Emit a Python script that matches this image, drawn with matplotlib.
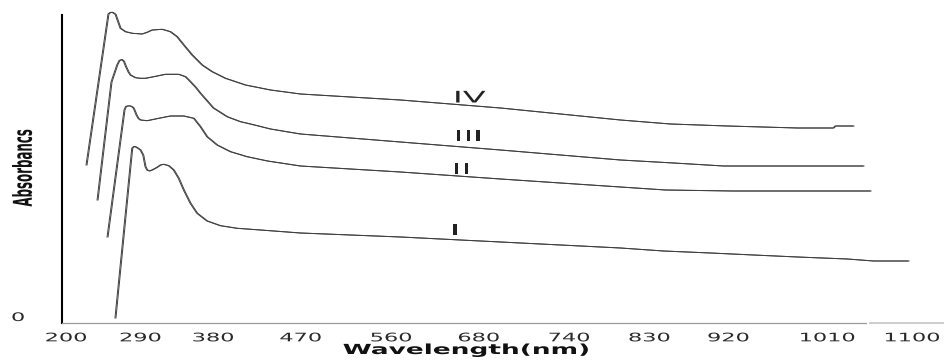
import matplotlib
matplotlib.use("Agg")
import matplotlib.pyplot as plt
import matplotlib.patheffects as pe
from matplotlib.patheffects import AbstractPathEffect
from matplotlib.transforms import Affine2D


# Widen glyphs sideways around the text's own centre
class StretchX(AbstractPathEffect):
    def __init__(self, sx):
        super().__init__()
        self.sx = sx

    def draw_path(self, renderer, gc, tpath, affine, rgbFace=None):
        box = tpath.get_extents(affine)
        cx = 0.5 * (box.x0 + box.x1)
        wide = affine + Affine2D().translate(-cx, 0).scale(self.sx, 1).translate(cx, 0)
        renderer.draw_path(gc, tpath, wide, rgbFace)


# Spectra (wavelength in nm, absorbance, offset per sample)
wl_1 = [253, 270.8, 272.7, 274.3, 277.5, 279.6, 282.5, 284.9, 286.7, 289.2, 292, 297.3, 300.8,
        304.3, 309.6, 314.9, 320.2, 325.6, 332.7, 339.8, 350.4, 364.5, 382.2, 407, 449.4,
        555.5, 661.7, 789, 834.7, 884.6, 930.2, 976.9, 1029.9, 1057.6, 1094.7]
ab_1 = [-0.02, 1.677, 1.695, 1.693, 1.675, 1.66, 1.61, 1.493, 1.46, 1.45, 1.46, 1.487, 1.51,
        1.517, 1.503, 1.46, 1.377, 1.26, 1.127, 1.027, 0.95, 0.903, 0.877, 0.86, 0.83,
        0.79, 0.74, 0.68, 0.65, 0.63, 0.61, 0.59, 0.57, 0.55, 0.55]

wl_2 = [244.6, 262.6, 264.2, 266.9, 269, 271.1, 272.5, 275.4, 277.5, 279.6, 286.7, 299, 311.4,
        325.6, 336.2, 343.3, 350.4, 361, 375.1, 392.8, 414.4, 449.4, 555.5, 661.7, 789,
        836.8, 907.9, 1054.4]
ab_2 = [0.79, 2.06, 2.095, 2.102, 2.10, 2.09, 2.077, 2.01, 1.975, 1.96, 1.953, 1.977, 2.00,
        2.00, 1.977, 1.893, 1.793, 1.71, 1.643, 1.593, 1.55, 1.50, 1.44, 1.37, 1.29,
        1.26, 1.25, 1.25]

wl_3 = [234, 248.8, 254.9, 257.3, 260, 262.1, 264.2, 266.9, 269, 274.3, 279.6, 284.9, 293.7,
        306.1, 320.2, 327.4, 332.7, 338, 343.3, 349.6, 357.1, 371.6, 385.7, 396.3, 417.6,
        449.4, 555.5, 661.7, 789, 845.3, 898.4, 1046.9]
ab_3 = [1.16, 2.34, 2.51, 2.555, 2.565, 2.545, 2.495, 2.44, 2.41, 2.383, 2.377, 2.377, 2.393,
        2.417, 2.417, 2.393, 2.343, 2.29, 2.227, 2.16, 2.08, 1.993, 1.943, 1.92, 1.87,
        1.82, 1.74, 1.66, 1.56, 1.53, 1.50, 1.50]

wl_4 = [222.3, 245.6, 247.7, 249.9, 253.1, 255.9, 258.4, 263.7, 270.8, 281.4, 286.7, 292,
        302.6, 311.4, 318.5, 325.6, 334.5, 345.1, 355.7, 369.8, 391, 417.6, 449.4, 555.5,
        661.7, 789, 842.1, 902.6, 976.9, 1015.1, 1017.2, 1036.3]
ab_4 = [1.51, 3.02, 3.035, 3.037, 3.017, 2.943, 2.877, 2.843, 2.827, 2.82, 2.837, 2.86,
        2.867, 2.843, 2.793, 2.71, 2.61, 2.51, 2.443, 2.377, 2.31, 2.26, 2.22, 2.16,
        2.08, 1.96, 1.92, 1.90, 1.88, 1.88, 1.90, 1.90]

curve_names = ["I", "II", "III", "IV"]
name_wl = [614, 621, 628, 630]
name_ab = [0.85, 1.46, 1.79, 2.18]

tick_text = ["200", "290", "380", "470", "560", "680", "740", "830", "920", "1010", "1100"]
tick_at = [201, 280, 357, 450, 546, 639, 735, 820, 904, 1009, 1099]

wide = [StretchX(1.9)]

fig = plt.figure(figsize=(9.44, 3.6), dpi=100)
ax = fig.add_axes([0.06568, 0.10278, 0.93432, 0.86667])

curves = [(wl_1, ab_1), (wl_2, ab_2), (wl_3, ab_3), (wl_4, ab_4)]
for wl, ab in curves:
    ax.plot(wl, ab, color="#404040", lw=0.7, solid_joinstyle="round",
            path_effects=[pe.Stroke(offset=(0.72, 0)), pe.Normal()])

for name, x, y in zip(curve_names, name_wl, name_ab):
    ax.text(x, y, name, ha="center", va="center", fontsize=11.5,
            color="#222222", path_effects=[StretchX(2.1)])

ax.set_xlim(196.8, 1132.9)
ax.set_ylim(-0.07, 3.05)

ax.set_xticks(tick_at, tick_text)
ax.set_yticks([0], ["0"])
ax.tick_params(axis="x", length=0, pad=6, labelsize=8.5, labelcolor="#2a2a2a")
ax.tick_params(axis="y", length=0, pad=29, labelsize=8.5, labelcolor="#2a2a2a")
for lab in ax.get_xticklabels() + ax.get_yticklabels():
    lab.set_path_effects(wide)

ax.set_xlabel("Wavelength(nm)", fontsize=10, fontweight="bold", color="#111111",
              path_effects=wide)
ax.xaxis.set_label_coords((466 - 62) / 882, -(350 - 323) / 312)
ax.xaxis.label.set_va("center")

ax.set_ylabel("Absorbancs", fontsize=8.5, fontweight="bold", color="#111111",
              path_effects=[StretchX(2.2)])
ax.yaxis.set_label_coords((23 - 62) / 882, (323 - 168) / 312)
ax.yaxis.label.set_va("center")

for side in ["top", "right"]:
    ax.spines[side].set_visible(False)
ax.spines["left"].set_color("black")
ax.spines["left"].set_linewidth(1.5)
ax.spines["left"].set_bounds(-0.07, 3.01)
ax.spines["bottom"].set_color("#9a9a9a")
ax.spines["bottom"].set_linewidth(0.9)
ax.spines["bottom"].set_bounds(196.8, 1050)
ax.axhline(-0.07, xmin=(870 - 62) / 882, xmax=1, color="#c4c4c4", lw=1.2, clip_on=False)

fig.savefig("out.png", dpi=100)
